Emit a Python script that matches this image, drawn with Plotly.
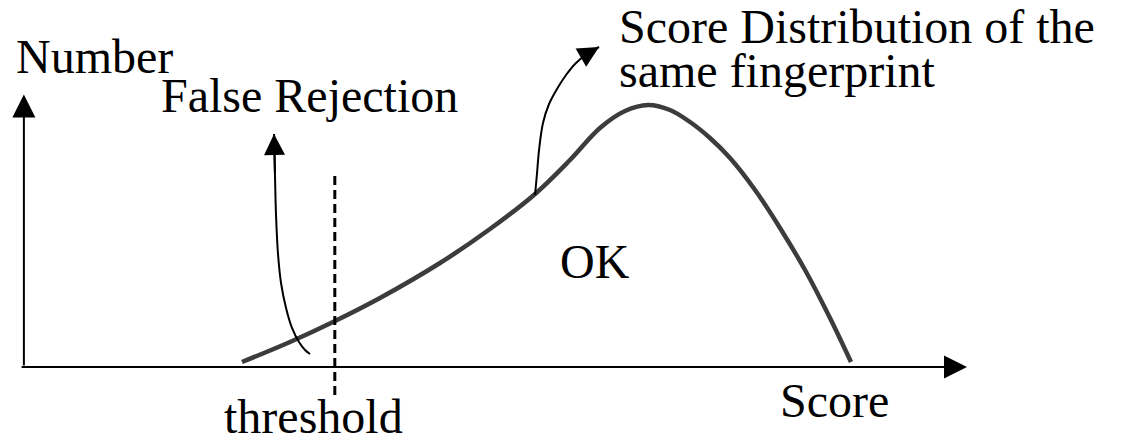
import plotly.graph_objects as go

# ---- data (diagram units: Score on x, Number on y; peak = 100) ----
curve_score = [23.28, 28.36, 32.91, 37.88, 44.23, 49.52, 54.29, 57.99, 61.16, 63.81,
               66.24, 68.57, 70.69, 72.80, 74.92, 77.57, 80.21, 82.86, 85.50, 87.72]
curve_number = [1.91, 9.54, 17.18, 26.34, 39.69, 52.67, 66.03, 79.01, 91.22, 97.71,
                100.0, 98.09, 93.51, 87.40, 79.77, 67.56, 53.05, 37.02, 18.70, 1.91]

threshold = 33.1
threshold_span = [-10.7, 73.3]

score_axis_end = 100.0
number_axis_end = 104.0

# curved annotation arrows (tail -> tip)
fr_arrow_x = [30.48, 29.95, 29.31, 28.57, 27.94, 27.41, 27.09, 26.88, 26.77, 26.67]
fr_arrow_y = [4.96, 6.49, 9.54, 14.89, 22.52, 32.06, 43.13, 58.02, 73.28, 88.93]
sd_arrow_x = [54.29, 54.50, 54.71, 55.13, 55.77, 56.61, 57.57, 58.62, 59.79, 61.06]
sd_arrow_y = [65.65, 74.05, 82.82, 93.13, 100.38, 106.11, 111.45, 116.03, 119.47, 122.14]

FONT = "Liberation Serif"
FS = 48
INK = "black"

fig = go.Figure()

fig.add_trace(go.Scatter(
    x=curve_score, y=curve_number, mode="lines",
    line=dict(color="#3c3c3c", width=4.5, shape="spline", smoothing=1.0),
    hoverinfo="skip", showlegend=False))

fig.add_trace(go.Scatter(
    x=[threshold, threshold], y=threshold_span, mode="lines",
    line=dict(color=INK, width=3, dash="9px,5px"),
    hoverinfo="skip", showlegend=False))

fig.add_trace(go.Scatter(
    x=fr_arrow_x, y=fr_arrow_y, mode="lines",
    line=dict(color=INK, width=2, shape="spline", smoothing=1.0),
    hoverinfo="skip", showlegend=False))

fig.add_trace(go.Scatter(
    x=sd_arrow_x, y=sd_arrow_y, mode="lines",
    line=dict(color=INK, width=2, shape="spline", smoothing=1.0),
    hoverinfo="skip", showlegend=False))

annotations = []

def arrow(x0, y0, x1, y1, width=2, size=2.3, head=2):
    annotations.append(dict(
        x=x1, y=y1, ax=x0, ay=y0, xref="x", yref="y", axref="x", ayref="y",
        text="", showarrow=True, arrowhead=head, arrowsize=size,
        arrowwidth=width, arrowcolor=INK))

# axes
arrow(-0.2, 0, score_axis_end, 0)
arrow(0.2, 0, 0.2, number_axis_end)
# arrow heads on curved arrows
arrow(fr_arrow_x[-2], fr_arrow_y[-2], fr_arrow_x[-1], fr_arrow_y[-1], size=2.1)
arrow(sd_arrow_x[-2], sd_arrow_y[-2], sd_arrow_x[-1], sd_arrow_y[-1], size=2.1)

def label(text, x, y, xanchor="left"):
    annotations.append(dict(
        x=x, y=y, xref="x", yref="y", text=text, showarrow=False,
        xanchor=xanchor, yanchor="middle",
        font=dict(family=FONT, size=FS, color=INK)))

label("Number", -0.85, 118.7)
label("False Rejection", 14.5, 103.6)
label("Score Distribution of the", 63.0, 129.8)
label("same fingerprint", 63.0, 113.0)
label("OK", 60.6, 40.1, "center")
label("Score", 86.0, -12.6, "center")
label("threshold", 30.8, -18.8, "center")

fig.update_layout(
    width=1124, height=437,
    margin=dict(l=0, r=0, t=0, b=0),
    paper_bgcolor="white", plot_bgcolor="white",
    annotations=annotations,
    xaxis=dict(range=[-2.328, 116.61], visible=False, fixedrange=True),
    yaxis=dict(range=[-26.72, 140.08], visible=False, fixedrange=True),
    showlegend=False,
)

fig.write_html("out.html", config={"displayModeBar": False},
               post_script="document.body.style.margin='0px';")
